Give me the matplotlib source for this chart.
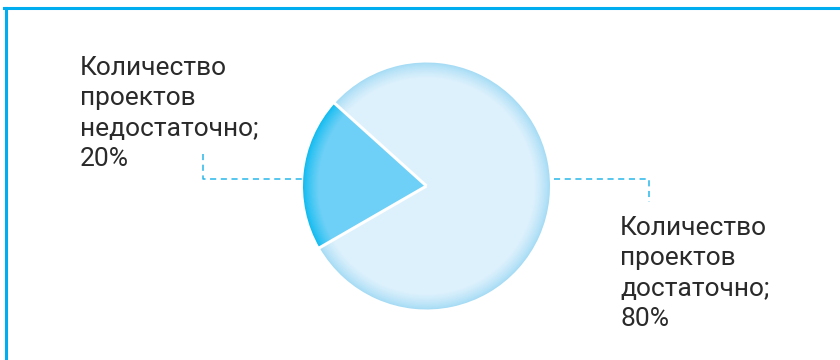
import numpy as np
import matplotlib.pyplot as plt
import matplotlib.colors as mcolors
from matplotlib.lines import Line2D

plt.rcParams['font.family'] = ['Roboto', 'DejaVu Sans']

labels = ["Количество\nпроектов\nнедостаточно;\n20%",
          "Количество\nпроектов\nдостаточно;\n80%"]
values = [20, 80]

# colours: (rim, centre) for each slice
rim_colors = ["#12bcf0", "#a6dcf5"]
fill_colors = ["#6ed0f6", "#ddf1fc"]
border_color = "#00aeef"
leader_color = "#27b6ea"
text_color = "#2b2a2a"

W, H = 840, 360
fig = plt.figure(figsize=(W / 100, H / 100), dpi=100)
ax = fig.add_axes([0, 0, 1, 1])
ax.set_xlim(0, W)
ax.set_ylim(0, H)
ax.set_aspect("equal")
ax.axis("off")

cx, cy, R = 426.5, 174, 123.5
start = 138

#gradient rim: stacked pies, outer layers closer to rim colour
n_layers = 16
rim_w = 15
for i in range(n_layers + 1):
    t = i / n_layers
    r = R - rim_w * t
    cols = []
    for rc, fc in zip(rim_colors, fill_colors):
        a = np.array(mcolors.to_rgb(rc))
        b = np.array(mcolors.to_rgb(fc))
        k = t ** 0.8
        cols.append(tuple(a * (1 - k) + b * k))
    ax.pie(values, colors=cols, startangle=start, radius=r, center=(cx, cy),
           counterclock=True, wedgeprops=dict(linewidth=0))
ax.set_xlim(0, W)
ax.set_ylim(0, H)

#white separators
bounds = start + 360 * np.cumsum([0] + values[:-1]) / sum(values)
for a in bounds:
    th = np.deg2rad(a)
    ax.plot([cx, cx + (R + 1) * np.cos(th)], [cy, cy + (R + 1) * np.sin(th)],
            color="white", lw=2.2, solid_capstyle="butt", zorder=5)

#leader lines
dash = dict(color=leader_color, lw=1.1, linestyle=(0, (4, 3)), zorder=4)
ax.plot([203, 203, 302], [H - 154, H - 179, H - 179], **dash)
ax.plot([554, 649, 649], [H - 179, H - 179, H - 202], **dash)

#labels
txt = dict(ha="left", va="top", fontsize=19, color=text_color,
           linespacing=1.34)
ax.text(80, H - 56, labels[0], **txt)
ax.text(620, H - 216, labels[1], **txt)

#frame on top and left
fig.add_artist(Line2D([4, W], [H - 8, H - 8], transform=None,
                      color=border_color, lw=2.2))
fig.add_artist(Line2D([5.5, 5.5], [0, H - 8], transform=None,
                      color=border_color, lw=2.2))

fig.savefig("out.png", dpi=100, facecolor="white")
